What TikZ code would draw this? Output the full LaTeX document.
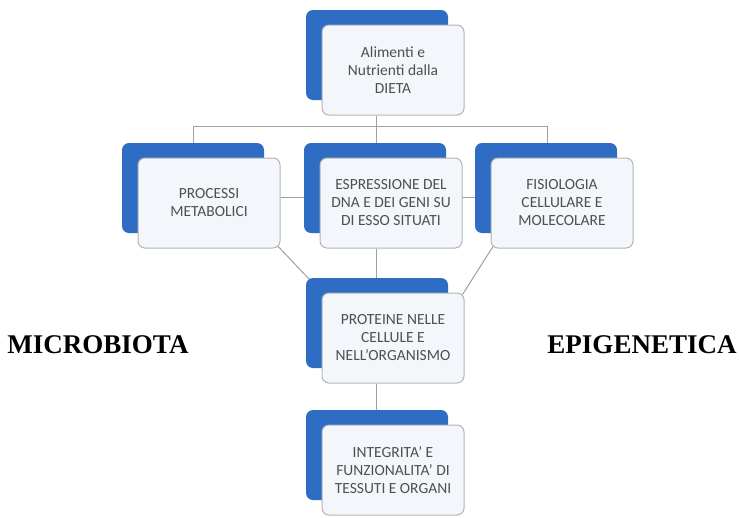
\documentclass[tikz,border=0pt]{standalone}
\usepackage{fontspec}
\setmainfont{Liberation Serif}
\newfontfamily\boxfont{Carlito}
\usetikzlibrary{calc,shadows,backgrounds}

\definecolor{cardblue}{HTML}{2F6DC4}
\definecolor{cardfill}{HTML}{F3F6FA}
\definecolor{cardline}{HTML}{B4B4B4}
\definecolor{linkgray}{HTML}{A0A0A0}
\definecolor{textgray}{HTML}{505050}

\tikzset{
  card/.style={draw=cardline, line width=1pt, fill=cardfill, rounded corners=7pt,
    minimum width=142pt, minimum height=90pt, align=center, text=textgray,
    font=\boxfont\fontsize{15.5}{18}\selectfont,
    copy shadow={shadow xshift=-16pt, shadow yshift=15pt, fill=cardblue, draw=none}},
  link/.style={draw=linkgray, line width=1pt},
  sidelabel/.style={font=\bfseries\fontsize{27}{30}\selectfont, text=black}
}

\begin{document}
\begin{tikzpicture}[x=1pt,y=-1pt]
            \useasboundingbox (0,0) rectangle (739,517);

            \node[card] (dieta) at (393,70) {Alimenti e\\Nutrienti dalla\\DIETA};
            \node[card] (metab) at (209,203) {PROCESSI\\METABOLICI};
            \node[card] (espr) at (391,203) {ESPRESSIONE DEL\\DNA E DEI GENI SU\\DI ESSO SITUATI};
            \node[card] (fisio) at (562,203) {FISIOLOGIA\\CELLULARE E\\MOLECOLARE};
            \node[card] (prot) at (393,338) {PROTEINE NELLE\\CELLULE E\\NELL’ORGANISMO};
            \node[card] (integ) at (393,470) {INTEGRITA’ E\\FUNZIONALITA’ DI\\TESSUTI E ORGANI};

            \node[sidelabel] (micro) at (98,345) {MICROBIOTA};
            \node[sidelabel] (epig) at (642,345) {EPIGENETICA};

            \begin{pgfonlayer}{background}
            \coordinate (bus) at ($(dieta.south)+(-17,11)$);
            \draw[link] ($(metab.north)+(-16,0)$) |- (bus) -| ($(fisio.north)+(-15,0)$);
            \draw[link] ($(dieta.south)+(-17,0)$) -- ($(espr.north)+(-15,0)$);
            \draw[link] ($(metab.east)+(0,-6)$) -- ($(fisio.west)+(0,-6)$);
            \draw[link] ($(metab.south east)+(-8,-8)$) -- ($(prot.north west)+(-12,-13)$);
            \draw[link] ($(fisio.south west)+(5,-6)$) -- ($(prot.north east)+(-2,2)$);
            \draw[link] ($(espr.south)+(-15,0)$) -- ($(prot.north)+(-17,0)$);
            \draw[link] ($(prot.south)+(-17,0)$) -- ($(integ.north)+(-17,0)$);
            \end{pgfonlayer}
        \end{tikzpicture}
\end{document}
